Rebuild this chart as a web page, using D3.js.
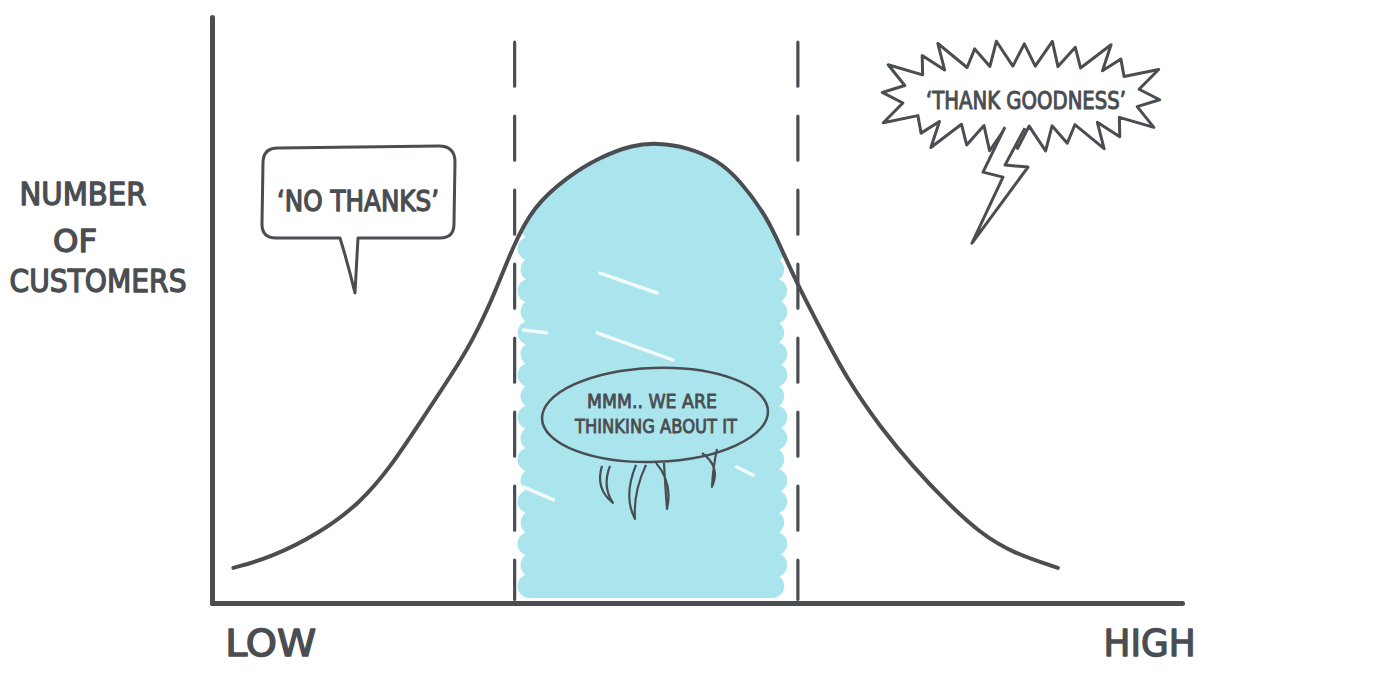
<!DOCTYPE html>
<html>
<head>
    <meta charset="utf-8">
    <title>Number of customers</title>
    <script src="https://d3js.org/d3.v7.min.js"></script>
    <style>
        body { margin: 0; background: #fff; }
        svg { display: block; }
        .hand {
            font-family: "DejaVu Sans", "Noto Sans", sans-serif;
            fill: #4a4d51;
            stroke: #4a4d51;
            stroke-width: 1.4;
            stroke-linejoin: round;
        }
    </style>
</head>
<body>
<div id="chart"></div>
<script type="text/javascript">

    // bell curve (both axes in 0-100 units)
    const curveX = [2.2, 6.0, 11.1, 15.3, 18.4, 21.4, 24.8, 26.9, 29.0, 31.0, 33.1, 36.6, 40.0, 43.4, 45.9,
                    49.0, 52.1, 54.4, 57.2, 58.6, 60.3, 62.7, 65.5, 68.9, 72.3, 75.8, 79.2, 82.6, 87.2];
    const curveY = [6.0, 7.7, 11.9, 17.1, 23.2, 30.7, 39.2, 44.9, 52.2, 60.8, 67.6, 72.7, 76.1, 78.2, 78.5,
                    77.8, 75.6, 72.2, 65.9, 60.8, 54.6, 46.9, 38.1, 30.0, 23.2, 17.1, 11.9, 8.5, 6.0];

    // dashed dividers and the shaded "thinking about it" band
    const dividers = [31.2, 60.4];
    const band = [31.5, 59.3];

    // axis labels
    const xLabels = ["LOW", "HIGH"];
    const xLabelPos = [6.0, 96.6];
    const yTitle = ["NUMBER", "OF", "CUSTOMERS"];

    // annotations: text and where they sit (data units)
    const noThanks = "‘NO THANKS’";
    const goodness = "‘THANK GOODNESS’";
    const thinking = ["MMM.. WE ARE", "THINKING ABOUT IT"];
    const noThanksAt = [15.05, 69.8];
    const goodnessAt = [83.4, 86.5];
    const thinkingAt = [45.67, 32.1];

    // little white streaks in the scribbled fill
    const glints = [
        [[40.0, 56.3], [45.9, 52.9]],
        [[39.7, 46.1], [47.5, 41.5]],
        [[32.1, 46.6], [34.5, 46.1]],
        [[32.1, 19.8], [35.2, 17.6]],
        [[54.1, 23.2], [55.8, 21.8]]
    ];

    const ink = "#4a4d51";
    const blue = "#aae5ed";

    let margin = {top: 17, right: 218, bottom: 79, left: 212};
    let w = 1400 - margin.left - margin.right;
    let h = 682 - margin.top - margin.bottom;

    let root = d3.select("#chart")
        .append("svg")
            .attr("width", 1400)
            .attr("height", 682);

    let svg = root.append("g")
        .attr("transform", "translate(" + margin.left + "," + margin.top + ")");

    let xScale = d3.scaleLinear().domain([0, 100]).range([0, w]);
    let yScale = d3.scaleLinear().domain([0, 100]).range([h, 0]);

    let curve = curveX.map((x, i) => [x, curveY[i]]);

    // clip: everything under the curve
    let area = d3.area()
        .x(d => xScale(d[0]))
        .y0(yScale(0))
        .y1(d => yScale(d[1]))
        .curve(d3.curveBasis);

    svg.append("clipPath")
        .attr("id", "under")
        .append("path")
        .attr("d", area(curve));

    // scribbled blue fill = fat round-capped strokes, clipped by the curve
    let rows = d3.range(2.9, 82, 3.6);
    let fill = svg.append("g").attr("clip-path", "url(#under)");
    fill.selectAll("line")
        .data(rows)
        .enter()
        .append("line")
        .attr("x1", (d, i) => xScale(band[0]) + 12 + (i % 2 ? 3 : 0))
        .attr("x2", (d, i) => xScale(band[1]) - 12 - (i % 3 ? 0 : 3))
        .attr("y1", d => yScale(d))
        .attr("y2", d => yScale(d))
        .attr("stroke", blue)
        .attr("stroke-width", 24)
        .attr("stroke-linecap", "round");

    fill.selectAll(".glint")
        .data(glints)
        .enter()
        .append("line")
        .attr("class", "glint")
        .attr("x1", d => xScale(d[0][0]))
        .attr("y1", d => yScale(d[0][1]))
        .attr("x2", d => xScale(d[1][0]))
        .attr("y2", d => yScale(d[1][1]))
        .attr("stroke", "#fff")
        .attr("stroke-width", 3.5)
        .attr("stroke-linecap", "round")
        .attr("opacity", 0.85);

    // dashed dividers
    svg.selectAll(".divider")
        .data(dividers)
        .enter()
        .append("line")
        .attr("class", "divider")
        .attr("x1", d => xScale(d))
        .attr("x2", d => xScale(d))
        .attr("y1", yScale(95.7))
        .attr("y2", yScale(0.6))
        .attr("stroke", ink)
        .attr("stroke-width", 3.2)
        .attr("stroke-linecap", "round")
        .attr("stroke-dasharray", "44 30");

    // the curve
    let line = d3.line()
        .x(d => xScale(d[0]))
        .y(d => yScale(d[1]))
        .curve(d3.curveBasis);

    svg.append("path")
        .attr("d", line(curve))
        .attr("fill", "none")
        .attr("stroke", ink)
        .attr("stroke-width", 4)
        .attr("stroke-linecap", "round");

    // axes
    let xAxis = d3.axisBottom(xScale)
        .tickValues(xLabelPos)
        .tickFormat((d, i) => xLabels[i])
        .tickSize(0)
        .tickPadding(27);

    let yAxis = d3.axisLeft(yScale)
        .tickValues([])
        .tickSize(0);

    let gx = svg.append("g")
        .attr("transform", "translate(0," + h + ")")
        .call(xAxis);
    let gy = svg.append("g").call(yAxis);

    [gx, gy].forEach(g => g.select(".domain")
        .attr("stroke", ink)
        .attr("stroke-width", 5)
        .attr("stroke-linecap", "round"));

    gx.selectAll(".tick text")
        .attr("class", "hand")
        .attr("font-size", 37)
        .attr("textLength", (d, i) => i ? 92 : 91)
        .attr("lengthAdjust", "spacingAndGlyphs");

    // y title, three lines
    let yT = [[83, 205, 127], [75, 252, 44], [98, 292, 177]];
    root.selectAll(".ytitle")
        .data(yTitle)
        .enter()
        .append("text")
        .attr("class", "hand")
        .attr("x", (d, i) => yT[i][0])
        .attr("y", (d, i) => yT[i][1])
        .attr("text-anchor", "middle")
        .attr("font-size", 32)
        .attr("textLength", (d, i) => yT[i][2])
        .attr("lengthAdjust", "spacingAndGlyphs")
        .text(d => d);

    // 'NO THANKS' speech bubble
    let nt = svg.append("g")
        .attr("transform", "translate(" + xScale(noThanksAt[0]) + "," + yScale(noThanksAt[1]) + ")");
    nt.append("path")
        .attr("d", "M-80,-46 L81,-48 Q97,-48 97,-32 L96,30 Q96,44 82,44 L0,44 L-3,99 Q-10,70 -18,44 " +
                   "L-82,44 Q-96,44 -96,30 L-95,-31 Q-95,-46 -80,-46 Z")
        .attr("fill", "#fff")
        .attr("stroke", ink)
        .attr("stroke-width", 3)
        .attr("stroke-linejoin", "round");
    nt.append("text")
        .attr("class", "hand")
        .attr("y", 17)
        .attr("text-anchor", "middle")
        .attr("font-size", 29)
        .attr("textLength", 162)
        .attr("lengthAdjust", "spacingAndGlyphs")
        .text(noThanks);

    // 'THANK GOODNESS' burst with a lightning tail
    let tg = svg.append("g")
        .attr("transform", "translate(" + xScale(goodnessAt[0]) + "," + yScale(goodnessAt[1]) + ")");

    // spiky outline along a squarish ellipse, spikes spaced by arc length
    function burst(n) {
        let ri = [119, 30], ro = [146, 55], rm = [132, 42];
        let sq = t => [Math.sign(Math.cos(t)) * Math.pow(Math.abs(Math.cos(t)), 0.75),
                       Math.sign(Math.sin(t)) * Math.pow(Math.abs(Math.sin(t)), 0.75)];
        let th = d3.range(0, 1441).map(i => Math.PI * 1.08 + i / 1440 * 2 * Math.PI);
        let len = [0];
        for (let i = 1; i < th.length; i++) {
            let a = sq(th[i]), b = sq(th[i - 1]);
            len.push(len[i - 1] + Math.hypot(rm[0] * (a[0] - b[0]), rm[1] * (a[1] - b[1])));
        }
        let total = len[len.length - 1];
        let wob = [1, 0.92, 1.04, 0.88, 1, 0.95];
        let pts = [];
        for (let k = 0; k < 2 * n; k++) {
            let j = d3.bisectLeft(len, k / (2 * n) * total);
            let c = sq(th[Math.min(j, th.length - 1)]);
            let r = k % 2 ? ro : ri;
            let s = k % 2 ? wob[((k - 1) / 2) % wob.length] : 1;
            pts.push([r[0] * s * c[0], r[1] * s * c[1]]);
        }
        return "M" + pts.map(p => p.join(",")).join("L") + "Z";
    }

    tg.append("path")
        .attr("d", burst(24))
        .attr("fill", "#fff")
        .attr("stroke", ink)
        .attr("stroke-width", 3)
        .attr("stroke-linejoin", "round");

    let bolt = [[-16, 31], [-38, 76], [-18, 81], [-49, 147], [7, 71], [-16, 69], [4, 32]];
    tg.append("path")
        .attr("d", "M-17,22 L" + bolt.map(p => p.join(",")).join("L") + "L5,22Z")
        .attr("fill", "#fff");
    tg.append("path")
        .attr("d", "M" + bolt.map(p => p.join(",")).join("L"))
        .attr("fill", "none")
        .attr("stroke", ink)
        .attr("stroke-width", 3)
        .attr("stroke-linejoin", "round");
    tg.append("text")
        .attr("class", "hand")
        .attr("x", 5)
        .attr("y", 13)
        .attr("text-anchor", "middle")
        .attr("font-size", 25)
        .style("stroke-width", 1.1)
        .attr("textLength", 200)
        .attr("lengthAdjust", "spacingAndGlyphs")
        .text(goodness);

    // thought bubble in the middle
    let tb = svg.append("g")
        .attr("transform", "translate(" + xScale(thinkingAt[0]) + "," + yScale(thinkingAt[1]) + ")");
    tb.append("ellipse")
        .attr("rx", 113)
        .attr("ry", 47)
        .attr("transform", "rotate(-2)")
        .attr("fill", "none")
        .attr("stroke", ink)
        .attr("stroke-width", 2.5);

    let drips = [
        "M-53,51 Q-60,74 -42,88 Q-53,72 -45,51",
        "M-19,50 Q-32,82 -20,104 Q-22,78 -9,50",
        "M1,48 Q18,68 12,94 Q10,68 9,48",
        "M47,38 Q66,52 57,72 Q58,52 62,34"
    ];
    tb.selectAll(".drip")
        .data(drips)
        .enter()
        .append("path")
        .attr("class", "drip")
        .attr("d", d => d)
        .attr("fill", "none")
        .attr("stroke", ink)
        .attr("stroke-width", 2.2)
        .attr("stroke-linejoin", "round");

    tb.selectAll(".think")
        .data(thinking)
        .enter()
        .append("text")
        .attr("class", "hand")
        .attr("x", (d, i) => i ? 1 : -3)
        .attr("y", (d, i) => i ? 18 : -7)
        .attr("text-anchor", "middle")
        .attr("font-size", 20)
        .style("stroke-width", 0.9)
        .attr("textLength", (d, i) => i ? 162 : 130)
        .attr("lengthAdjust", "spacingAndGlyphs")
        .text(d => d);

</script>
</body>
</html>
